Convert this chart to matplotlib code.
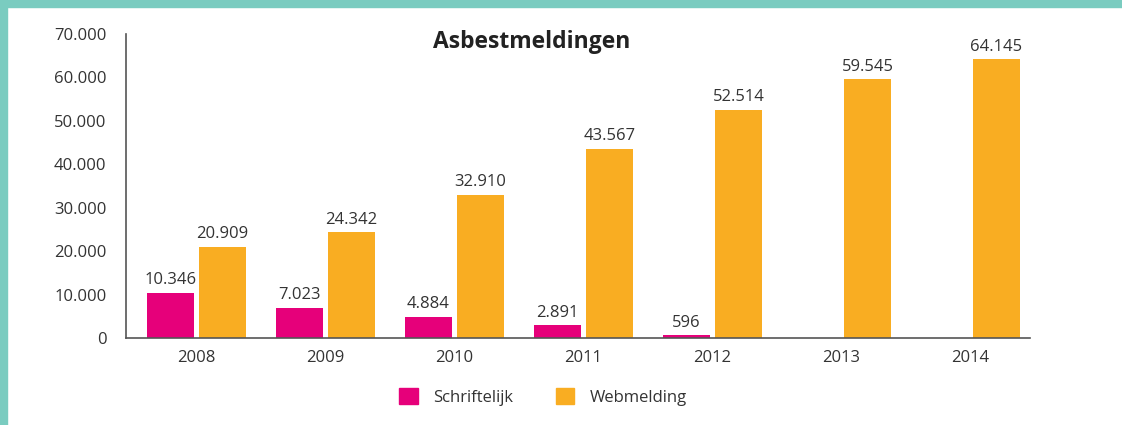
import matplotlib.pyplot as plt
from matplotlib.patches import Rectangle, Patch

jaren = ['2008', '2009', '2010', '2011', '2012', '2013', '2014']
schriftelijk = [10346, 7023, 4884, 2891, 596, None, None]
webmelding = [20909, 24342, 32910, 43567, 52514, 59545, 64145]

roze = '#E6007A'
oranje = '#F9AD22'
tekst = '#333333'

plt.rcParams['font.family'] = ['Open Sans', 'DejaVu Sans']

fig = plt.figure(figsize=(11.22, 4.25), dpi=100)
ax = fig.add_axes([126/1122, 1 - 338/425, 904/1122, 304/425])

# teal rand boven en links
fig.patches.append(Rectangle((0, 1 - 7/425), 1, 7/425, transform=fig.transFigure, color='#7ACCC0', zorder=0))
fig.patches.append(Rectangle((0, 0), 7/1122, 1, transform=fig.transFigure, color='#7ACCC0', zorder=0))

x = range(len(jaren))
w = 0.364
off = 0.2016
for i in x:
    if schriftelijk[i] is not None:
        ax.bar(i - off, schriftelijk[i], w, color=roze)
        ax.text(i - off, schriftelijk[i] + 1100, f'{schriftelijk[i]:,}'.replace(',', '.'),
                ha='center', va='bottom', fontsize=12, color=tekst)
    ax.bar(i + off, webmelding[i], w, color=oranje)
    ax.text(i + off, webmelding[i] + 1100, f'{webmelding[i]:,}'.replace(',', '.'),
            ha='center', va='bottom', fontsize=12, color=tekst)

ax.set_xlim(-0.547, 6.461)
ax.set_ylim(0, 70000)
ax.set_xticks(list(x))
ax.set_xticklabels(jaren)
yt = list(range(0, 70001, 10000))
ax.set_yticks(yt)
ax.set_yticklabels([f'{v:,}'.replace(',', '.') for v in yt])
ax.tick_params(length=0, labelsize=12, labelcolor=tekst)
ax.tick_params(axis='y', pad=14)
ax.tick_params(axis='x', pad=9)
for s in ['top', 'right']:
    ax.spines[s].set_visible(False)
for s in ['left', 'bottom']:
    ax.spines[s].set_color('#555555')
    ax.spines[s].set_linewidth(1.2)

fig.text(532/1122, 1 - 42/425, 'Asbestmeldingen', ha='center', va='center',
         fontsize=16.5, fontweight='bold', color='#222222')

handles = [Patch(color=roze, label='Schriftelijk'), Patch(color=oranje, label='Webmelding')]
fig.legend(handles=handles, loc='center', bbox_to_anchor=(543/1122, 1 - 397/425), ncol=2,
           frameon=False, fontsize=12, handlelength=1.1, handleheight=1.1,
           handletextpad=0.9, columnspacing=2.6, labelcolor=tekst)

fig.savefig('out.png', dpi=100)
